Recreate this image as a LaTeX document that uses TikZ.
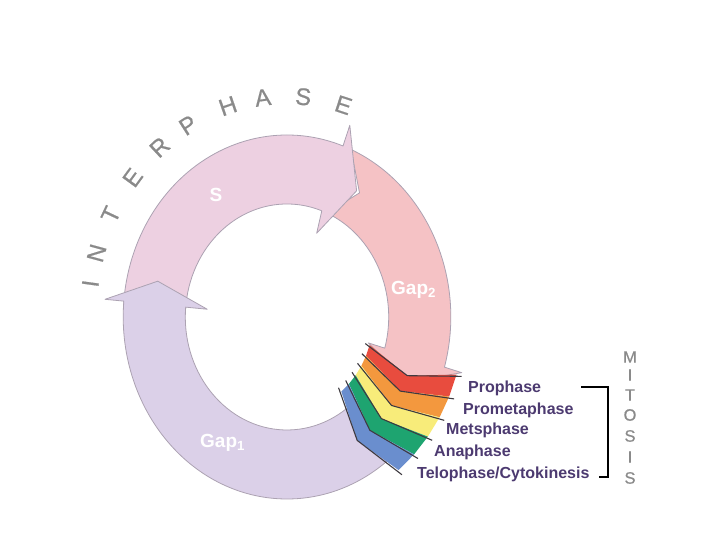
\documentclass[tikz,border=0pt]{standalone}
\usepackage{fontspec}
\setmainfont{Liberation Sans}
\definecolor{gaptwo}{RGB}{245,194,197}
\definecolor{sphase}{RGB}{237,208,225}
\definecolor{gapone}{RGB}{219,208,232}
\definecolor{ringline}{RGB}{172,162,178}
\definecolor{mred}{RGB}{232,76,62}
\definecolor{morange}{RGB}{243,152,62}
\definecolor{myellow}{RGB}{248,236,122}
\definecolor{mgreen}{RGB}{30,164,112}
\definecolor{mblue}{RGB}{106,142,206}
\definecolor{edgedark}{RGB}{62,58,64}
\definecolor{phasecol}{RGB}{76,58,112}
\definecolor{lettergray}{RGB}{138,138,138}
\begin{document}
\begin{tikzpicture}[x=1pt,y=1pt,
  seg/.style={draw=ringline, line width=0.8pt, line join=round},
  edgeline/.style={draw=edgedark, line width=1.1pt, line join=miter},
  phase/.style={anchor=west, text=phasecol, inner sep=0pt, font=\bfseries\fontsize{16}{19}\selectfont},
  ringlabel/.style={text=white, inner sep=0pt, font=\bfseries\fontsize{19}{22}\selectfont},
  bigletter/.style={text=lettergray, inner sep=0pt, font=\addfontfeature{FakeBold=0.6}\fontsize{24}{28}\selectfont},
  mitletter/.style={text=lettergray, inner sep=0pt, font=\addfontfeature{FakeBold=0.6}\fontsize{16.5}{18}\selectfont}]
\useasboundingbox (0,0) rectangle (720,540);

\begin{scope}[shift={(287,223)}, xscale=0.9]
  % Gap2
  \path[seg, fill=gaptwo] (67:182) arc[start angle=67, end angle=-16, radius=182]
     -- (-16:202) -- (-26:148) -- (-16:94) -- (-16:113)
     arc[start angle=-16, end angle=67, radius=113] -- (57:148) -- cycle;
  % S
  \path[seg, fill=sphase] (176:182) arc[start angle=176, end angle=70, radius=182]
     -- (70:204) -- (58.5:148) -- (68.5:90) -- (70:113)
     arc[start angle=70, end angle=176, radius=113] -- (166:148) -- cycle;
  % Gap1
  \path[seg, fill=gapone] (-48:113) -- (-48:182) arc[start angle=-48, end angle=-185, radius=182]
     -- (-185:203) -- (-194:148) -- (-185:89) -- (-185:113)
     arc[start angle=-185, end angle=-48, radius=113] -- cycle;
  % mitosis stripes
  \foreach \ca/\cb/\col in {-17/-23.8/mred, -23.8/-30.6/morange, -30.6/-37.4/myellow, -37.4/-44.2/mgreen, -44.2/-51/mblue}{
    \fill[\col] (\ca:96) -- ({\ca-6.7}:146) -- (\ca:197) -- (\cb:197) -- ({\cb-6.7}:146) -- (\cb:96) -- cycle;
  }
  \foreach \a in {-17,-23.8,-30.6,-37.4,-44.2,-51}{
    \draw[edgeline] (\a:91) -- ({\a-6.7}:146) -- (\a:203);
  }
\end{scope}

% ring labels
\node[ringlabel] (slab) at (216,345) {S};
\node[ringlabel, anchor=west] (gtwo) at (391,250) {Gap\textsubscript{2}};
\node[ringlabel, anchor=west] (gone) at (200,97) {Gap\textsubscript{1}};

% INTERPHASE
\foreach \l/\a [count=\i] in {I/171.3, N/163.2, T/152.4, E/140.9, R/129.8, P/119.8, H/107.3, A/97, S/85.3, E/73.5}{
  \node[bigletter, rotate={atan2(sin(\a), cos(\a)/0.9)-90}] (ip\i) at ({287+198.9*cos(\a)}, {223+221*sin(\a)}) {\l};
}

% phase labels
\node[phase] (pro) at (468,152) {Prophase};
\node[phase] (prometa) at (463,130) {Prometaphase};
\node[phase] (meta) at (446,110) {Metsphase};
\node[phase] (ana) at (434,88) {Anaphase};
\node[phase] (telo) at (417,66) {Telophase/Cytokinesis};

% bracket
\coordinate (bt) at (581,153);
\coordinate (bb) at (599,63);
\draw[line width=1.6pt] (bt) -- (608,153) -- (608,63) -- (bb);

% MITOSIS
\foreach \l/\y [count=\i] in {M/183, I/165, T/145, O/125, S/104, I/83, S/62}{
  \node[mitletter] (mi\i) at (630,\y) {\l};
}
\end{tikzpicture}
\end{document}
